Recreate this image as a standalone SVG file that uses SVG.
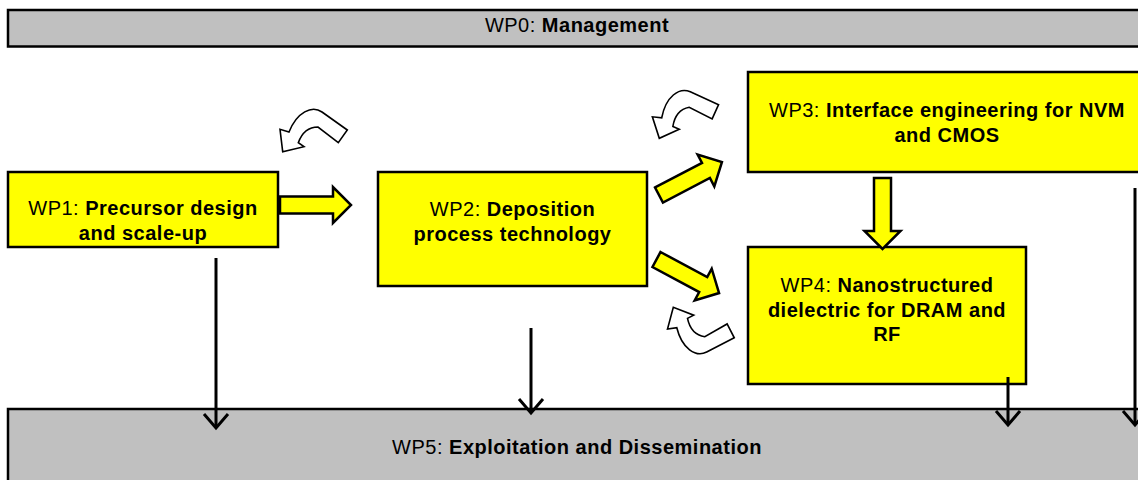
<svg xmlns="http://www.w3.org/2000/svg" xmlns:xlink="http://www.w3.org/1999/xlink" width="1138" height="480" viewBox="0 0 1138 480">
  <style>
    .box { stroke: #000; stroke-width: 2.5; }
    .wp { fill: #FFFF00; }
    .band { fill: #C0C0C0; }
    .label { font-family: "Liberation Sans", Arial, sans-serif; font-size: 20px; letter-spacing: 0.5px; fill: #000; text-anchor: middle; }
    .b { font-weight: bold; }
    .block { fill: #FFFF00; stroke: #000; stroke-width: 2.5; stroke-linejoin: miter; }
    .loop { fill: #FFFFFF; stroke: #000; stroke-width: 1.6; stroke-linejoin: miter; }
    .flow { fill: none; stroke: #000; stroke-width: 3; marker-end: url(#vhead); }
  </style>
  <defs>
    <!-- open V head for the thin downward links -->
    <marker id="vhead" markerUnits="userSpaceOnUse" markerWidth="30" markerHeight="30" viewBox="-16 -15 20 30" refX="0" refY="0" orient="auto" overflow="visible">
      <path d="M -14,-12 L 0,0 L -14,12" fill="none" stroke="#000" stroke-width="3"/>
    </marker>
    <!-- straight block arrow, tail at origin, pointing along +x -->
    <path id="blockArrow" d="M0,-8.5 L53,-8.5 L53,-18 L71,0 L53,18 L53,8.5 L0,8.5 Z"/>
    <!-- curved feedback arrow -->
    <path id="loopArrow" d="M347.3,130 L322,112 C312,105 297,112 289,132 L280,129.3 L282.7,151.7 L304,146.7 L298.3,142.7 Q304,127 318,127 L338.3,142.7 Z"/>
  </defs>

  <!-- WP0 management band -->
  <g id="wp0">
    <rect class="box band" x="8" y="10" width="1150" height="36.5"/>
    <text class="label" x="577" y="32">WP0: <tspan class="b">Management</tspan></text>
  </g>

  <!-- WP5 exploitation band -->
  <g id="wp5">
    <rect class="box band" x="8" y="409" width="1150" height="90" stroke-width="2"/>
    <text class="label" x="577" y="454">WP5: <tspan class="b">Exploitation and Dissemination</tspan></text>
  </g>

  <g id="wp1">
    <rect class="box wp" x="8" y="172" width="270" height="75"/>
    <text class="label" x="143" y="215">WP1: <tspan class="b">Precursor design</tspan></text>
    <text class="label b" x="143" y="240">and scale-up</text>
  </g>

  <g id="wp2">
    <rect class="box wp" x="378" y="172" width="269" height="114"/>
    <text class="label" x="512.5" y="216">WP2: <tspan class="b">Deposition</tspan></text>
    <text class="label b" x="512.5" y="241">process technology</text>
  </g>

  <g id="wp3">
    <rect class="box wp" x="748" y="72" width="400" height="100"/>
    <text class="label" x="947" y="117">WP3: <tspan class="b">Interface engineering for NVM</tspan></text>
    <text class="label b" x="947" y="142">and CMOS</text>
  </g>

  <g id="wp4">
    <rect class="box wp" x="748" y="247" width="278" height="137"/>
    <text class="label" x="887" y="292">WP4: <tspan class="b">Nanostructured</tspan></text>
    <text class="label b" x="887" y="316.5">dielectric for DRAM and</text>
    <text class="label b" x="887" y="341">RF</text>
  </g>

  <g id="connectors">
    <!-- block arrows between work packages -->
    <use xlink:href="#blockArrow" class="block" transform="translate(280,205)"/>
    <use xlink:href="#blockArrow" class="block" transform="translate(659,195) rotate(-27.6)"/>
    <use xlink:href="#blockArrow" class="block" transform="translate(656.5,259.5) rotate(28.2)"/>
    <use xlink:href="#blockArrow" class="block" transform="translate(882.5,178) rotate(90)"/>

    <!-- feedback loops -->
    <use xlink:href="#loopArrow" class="loop"/>
    <use xlink:href="#loopArrow" class="loop" transform="translate(659.3,138.3) rotate(-11) translate(-282.7,-151.7)"/>
    <use xlink:href="#loopArrow" class="loop" transform="translate(673.3,307.3) rotate(8) scale(1,-1) translate(-282.7,-151.7)"/>

    <!-- links down to WP5 -->
    <path class="flow" d="M216,258 L216,428"/>
    <path class="flow" d="M531,328 L531,413"/>
    <path class="flow" d="M1008,377 L1008,425"/>
    <path class="flow" d="M1135,188 L1135,425"/>
  </g>
</svg>
